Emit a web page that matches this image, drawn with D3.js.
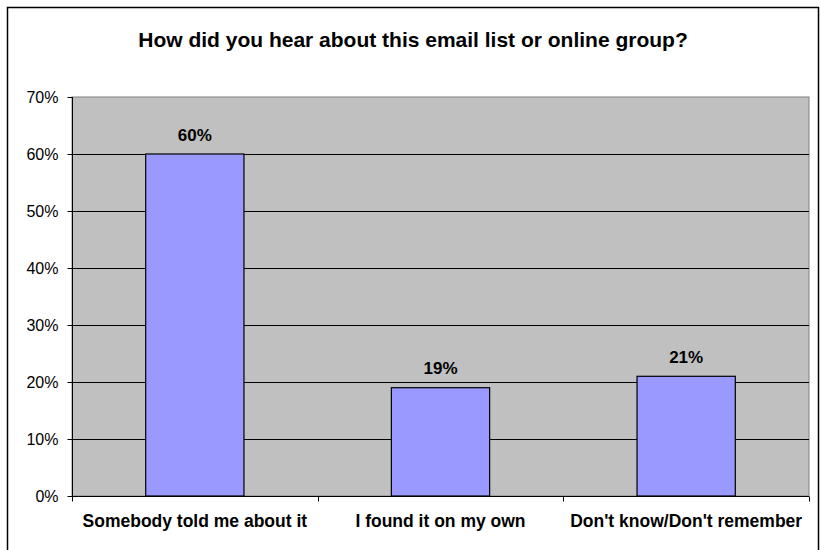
<!DOCTYPE html>
<html>
<head>
<meta charset="utf-8">
<script src="https://cdn.jsdelivr.net/npm/d3@7"></script>
<style>
  html, body { margin: 0; padding: 0; background: #fff; }
  svg { display: block; font-family: Arial, "Liberation Sans", sans-serif; }
</style>
</head>
<body>
<svg id="chart" width="821" height="550"></svg>
<script>
// Survey answers and their shares
const categories = ["Somebody told me about it", "I found it on my own", "Don't know/Don't remember"];
const shares = [0.60, 0.19, 0.21];
const yTicks = [0, 0.1, 0.2, 0.3, 0.4, 0.5, 0.6, 0.7];
const title = "How did you hear about this email list or online group?";

const svg = d3.select("#chart");
const plot = { left: 72, right: 809, top: 97, bottom: 496 };

// outer chart frame
svg.append("rect")
  .attr("x", 7.5).attr("y", 7.5)
  .attr("width", 811).attr("height", 560)
  .attr("fill", "#fff").attr("stroke", "#000").attr("stroke-width", 1.5);

const x = d3.scaleBand().domain(categories)
  .range([plot.left, plot.right]).paddingInner(0).paddingOuter(0);
const y = d3.scaleLinear().domain([0, 0.7]).range([plot.bottom, plot.top]);

// plot background
svg.append("rect")
  .attr("x", plot.left).attr("y", plot.top)
  .attr("width", plot.right - plot.left).attr("height", plot.bottom - plot.top)
  .attr("fill", "#C0C0C0").attr("stroke", "#808080").attr("stroke-width", 1);

// horizontal gridlines
svg.append("g").selectAll("line")
  .data(yTicks.filter(t => t > 0 && t < 0.7))
  .join("line")
  .attr("x1", plot.left).attr("x2", plot.right)
  .attr("y1", d => Math.round(y(d)) + 0.5).attr("y2", d => Math.round(y(d)) + 0.5)
  .attr("stroke", "#000").attr("stroke-width", 1);

// bars: Excel-style gap width of 150%
const barW = x.bandwidth() / 2.5;
svg.append("g").selectAll("rect")
  .data(categories)
  .join("rect")
  .attr("x", (d) => x(d) + (x.bandwidth() - barW) / 2)
  .attr("y", (d, i) => y(shares[i]))
  .attr("width", barW)
  .attr("height", (d, i) => y(0) - y(shares[i]))
  .attr("fill", "#9999FF").attr("stroke", "#000").attr("stroke-width", 1.2);

// value labels
svg.append("g").selectAll("text")
  .data(categories)
  .join("text")
  .attr("x", d => x(d) + x.bandwidth() / 2)
  .attr("y", (d, i) => y(shares[i]) - 13.5)
  .attr("text-anchor", "middle")
  .attr("font-weight", "bold").attr("font-size", 17)
  .attr("fill", "#000")
  .text((d, i) => d3.format(".0%")(shares[i]));

// y axis
const yAxis = d3.axisLeft(y).tickValues(yTicks).tickFormat(d3.format(".0%"))
  .tickSize(5).tickPadding(9);
const gy = svg.append("g").attr("transform", `translate(${plot.left + 0.5},0)`).call(yAxis);
gy.select(".domain").attr("stroke", "#000").attr("d", `M0,${plot.top}V${plot.bottom + 5}`);
gy.selectAll(".tick line").attr("stroke", "#000");
gy.selectAll(".tick text").attr("font-size", 16).attr("fill", "#000")
  .attr("font-family", "Arial, 'Liberation Sans', sans-serif");

// x axis with tick marks at category boundaries
const gx = svg.append("g").attr("transform", `translate(0,${plot.bottom + 0.5})`);
gx.append("line").attr("x1", plot.left).attr("x2", plot.right)
  .attr("stroke", "#000").attr("stroke-width", 1.2);
const bounds = categories.map(c => x(c)).concat([plot.right]);
gx.selectAll("line.tk").data(bounds).join("line").attr("class", "tk")
  .attr("x1", d => Math.round(d) + 0.5).attr("x2", d => Math.round(d) + 0.5)
  .attr("y1", 0).attr("y2", 5).attr("stroke", "#000");
gx.selectAll("text").data(categories).join("text")
  .attr("x", d => x(d) + x.bandwidth() / 2)
  .attr("y", 30.5)
  .attr("text-anchor", "middle")
  .attr("font-weight", "bold").attr("font-size", 17.5)
  .attr("fill", "#000")
  .text(d => d);

// title
svg.append("text")
  .attr("x", 413).attr("y", 47)
  .attr("text-anchor", "middle")
  .attr("font-weight", "bold").attr("font-size", 21)
  .attr("fill", "#000")
  .text(title);
</script>
</body>
</html>
